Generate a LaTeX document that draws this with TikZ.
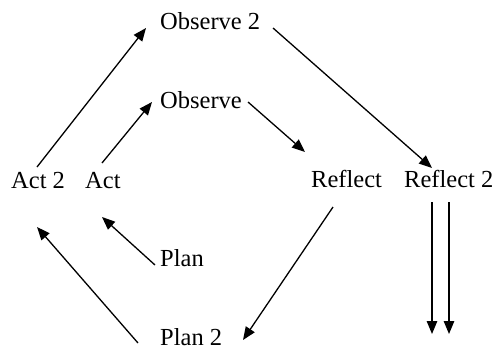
\documentclass[tikz,border=0pt]{standalone}
\usepackage{fontspec}
\setmainfont{Liberation Serif}
\usetikzlibrary{arrows.meta}
\begin{document}
\begin{tikzpicture}[x=1pt,y=-1pt,
  lbl/.style={anchor=base west,inner sep=0pt,font=\fontsize{24.5}{28}\selectfont},
  arr/.style={line width=1.3pt,-{Triangle[length=13pt,width=10.5pt]}}]
\useasboundingbox (0,0) rectangle (495,349);
\node[lbl] (obs2) at (160,29) {Observe 2};
\node[lbl] (obs) at (160,108) {Observe};
\node[lbl] (act2) at (11,188) {Act 2};
\node[lbl] (act) at (85,188) {Act};
\node[lbl] (refl) at (311,187) {Reflect};
\node[lbl] (refl2) at (404,187) {Reflect 2};
\node[lbl] (plan) at (160,266) {Plan};
\node[lbl] (plan2) at (160,345) {Plan 2};
\coordinate (d1) at (432,334);
\coordinate (d2) at (449,334);
\draw[arr] ([shift={(26,-21)}]act2.base west) -- ([shift={(-14,-1)}]obs2.base west);
\draw[arr] ([shift={(17,-25)}]act.base west) -- ([shift={(-8,-6)}]obs.base west);
\draw[arr] ([shift={(88,-6)}]obs.base west) -- ([shift={(-6,-35)}]refl.base west);
\draw[arr] ([shift={(113,-1)}]obs2.base west) -- ([shift={(28,-19)}]refl2.base west);
\draw[arr] ([shift={(22,20)}]refl.base west) -- ([shift={(83,-5)}]plan2.base west);
\draw[arr] ([shift={(28,15)}]refl2.base west) -- (d1);
\draw[arr] ([shift={(45,15)}]refl2.base west) -- (d2);
\draw[arr] ([shift={(-5,-1)}]plan.base west) -- ([shift={(17,29)}]act.base west);
\draw[arr] ([shift={(-22,-2)}]plan2.base west) -- ([shift={(26,39)}]act2.base west);
\end{tikzpicture}
\end{document}
